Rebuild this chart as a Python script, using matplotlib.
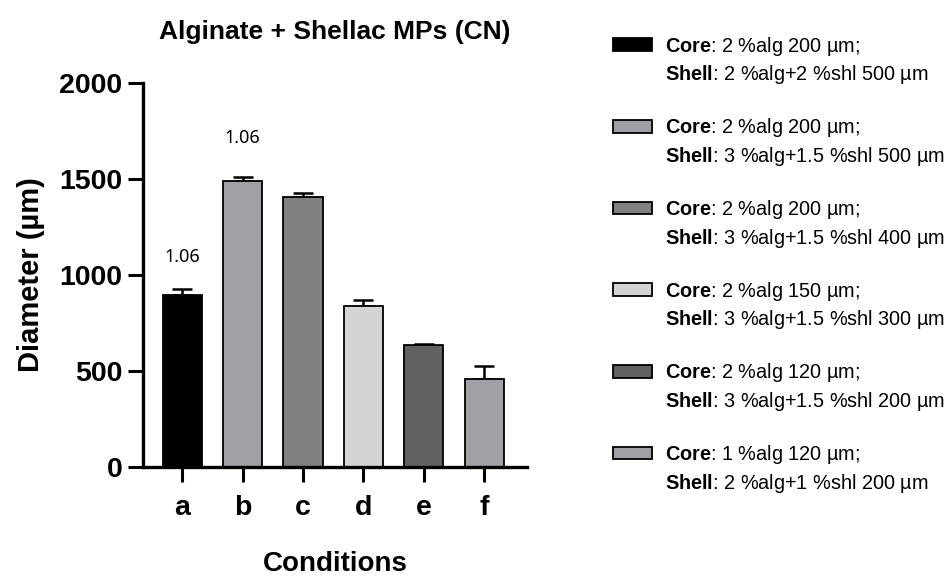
import numpy as np
import matplotlib
matplotlib.use('Agg')
import matplotlib.pyplot as plt
from matplotlib.patches import Patch

# Data
conditions = ['a', 'b', 'c', 'd', 'e', 'f']
diameters = [897, 1488, 1405, 838, 633, 459]
errors = [30, 25, 23, 31, 10, 69]
bar_colors = ['#000000', '#a1a0a5', '#808080', '#d4d4d4', '#616161', '#a1a0a5']
ratio_labels = {'a': '1.06', 'b': '1.06'}
ratio_label_y = {'a': 1095, 'b': 1715}
core_text = ['2 %alg 200 µm;', '2 %alg 200 µm;', '2 %alg 200 µm;',
             '2 %alg 150 µm;', '2 %alg 120 µm;', '1 %alg 120 µm;']
shell_text = ['2 %alg+2 %shl 500 µm', '3 %alg+1.5 %shl 500 µm', '3 %alg+1.5 %shl 400 µm',
              '3 %alg+1.5 %shl 300 µm', '3 %alg+1.5 %shl 200 µm', '2 %alg+1 %shl 200 µm']

plt.rcParams['font.family'] = ['Liberation Sans', 'DejaVu Sans']
plt.rcParams['mathtext.fontset'] = 'custom'
plt.rcParams['mathtext.bf'] = 'Liberation Sans:bold'
plt.rcParams['mathtext.rm'] = 'Liberation Sans'

fig = plt.figure(figsize=(9.47, 5.79), dpi=100)
ax = fig.add_axes([0.151, 0.1934, 0.4055, 0.6632])

x = np.arange(len(conditions))
ax.bar(x, diameters, width=0.65, color=bar_colors, edgecolor='black', linewidth=1.3, zorder=2)
ax.errorbar(x, diameters, yerr=[np.zeros(len(errors)), errors], fmt='none',
            ecolor='black', elinewidth=1.8, capsize=7, capthick=1.8, zorder=1)

for i, c in enumerate(conditions):
    if c in ratio_labels:
        ax.text(x[i], ratio_label_y[c], ratio_labels[c], ha='center', va='center',
                fontsize=13, family=['Noto Sans', 'DejaVu Sans'])

ax.set_xlim(-0.65, 5.71)
ax.set_ylim(0, 2000)
ax.set_yticks([0, 500, 1000, 1500, 2000])
ax.set_xticks(x)
ax.set_xticklabels(conditions)
for side in ['top', 'right']:
    ax.spines[side].set_visible(False)
for side in ['left', 'bottom']:
    ax.spines[side].set_linewidth(2.4)
ax.tick_params(axis='both', width=2.2, length=11, labelsize=20.5, pad=4)
ax.tick_params(axis='x', pad=9)
for lab in ax.get_xticklabels() + ax.get_yticklabels():
    lab.set_fontweight('bold')

ax.set_ylabel('Diameter (µm)', fontsize=21, fontweight='bold', labelpad=10)
ax.set_xlabel('Conditions', fontsize=20, fontweight='bold', labelpad=22)
ax.set_title('Alginate + Shellac MPs (CN)', fontsize=19, fontweight='bold', pad=32)

# legend: swatch next to the "Core" line, blank row between groups
handles, labels = [], []
for i in range(len(conditions)):
    handles.append(Patch(facecolor=bar_colors[i], edgecolor='black', linewidth=1.3))
    labels.append(r'$\mathbf{Core}$: ' + core_text[i])
    handles.append(Patch(facecolor='none', edgecolor='none'))
    labels.append(r'$\mathbf{Shell}$: ' + shell_text[i])
    if i < len(conditions) - 1:
        handles.append(Patch(facecolor='none', edgecolor='none'))
        labels.append(' ')
leg = fig.legend(handles, labels, loc='upper left', bbox_to_anchor=(0.647, 0.94),
                 frameon=False, prop={'size': 14.3}, borderpad=0, borderaxespad=0,
                 handlelength=2.0, handleheight=0.6, handletextpad=0.65,
                 labelspacing=0.28)

plt.savefig('out.png', dpi=100)
